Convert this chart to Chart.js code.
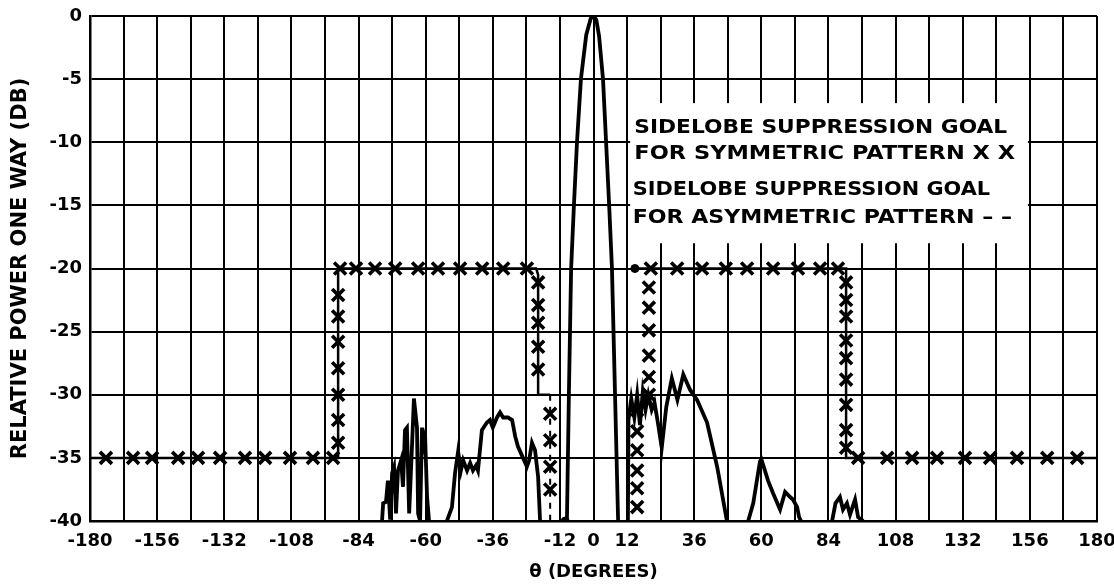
<!DOCTYPE html>
<html>
<head>
<meta charset="utf-8">
<script src="https://cdn.jsdelivr.net/npm/chart.js@4"></script>
<style>
html,body{margin:0;padding:0;background:#fff}
</style>
</head>
<body>
<canvas id="pattern" width="1114" height="585"></canvas>
<script>
// ================= DATA =================

// angle ticks (grid every 12 deg, only these get a label)
const thetaLabels = [-180,-156,-132,-108,-84,-60,-36,-12,0,12,36,60,84,108,132,156,180]

// measured one-way pattern [theta, dB]; null = trace drops below -40
const patternTrace = [
[-75.6,-40],[-75.2,-38.6],[-74.2,-38.5],[-73.5,-36.8],[-72.7,-39.9],[-72,-36.2],[-71.3,-35.7],[-70.6,-39.4],
[-69.9,-36],[-68.8,-35.2],[-68.1,-37.3],[-67.4,-32.8],[-66.7,-32.6],[-65.9,-39.4],[-64.8,-33.6],[-64.2,-30.3],
[-63.1,-32.6],[-62.7,-39.4],[-62,-40],[-61.3,-32.6],[-60.9,-34.1],[-60.2,-33.3],[-59.5,-38.1],[-58.8,-40],
null,
[-52.4,-40],[-50.6,-38.9],[-49.5,-36.2],[-48.4,-34.5],[-47.4,-36],[-46.6,-35.2],[-45.2,-36],[-44.1,-35.4],
[-43.1,-36],[-42,-35.6],[-41.3,-36],[-39.9,-32.8],[-38.1,-32.2],[-37,-32],[-36,-32.6],[-34.5,-31.8],
[-33.4,-31.4],[-32.3,-31.8],[-30.6,-31.8],[-29.1,-32],[-28,-33.3],[-27,-34.1],[-25.2,-35],[-23.8,-35.7],
[-23,-35.2],[-22,-33.8],[-20.9,-34.4],[-19.8,-36.5],[-19.1,-40],
null,
[-9.5,-40],[-8.8,-30],[-8,-20],[-7,-15],[-5.9,-10],[-4.5,-5],[-2.6,-1.5],[-1,-0.2],[0,0],[1,-0.3],
[2,-1.6],[3.4,-5],[4.5,-10],[5.6,-15],[6.6,-20],[7.7,-30],[8.8,-40],
null,
[12.3,-40],[12.5,-32],[13.5,-30.3],[14.6,-31.8],[15.6,-30],[16.6,-32.4],[17.6,-29.8],[18.6,-31.2],
[19.6,-30],[20.8,-31.2],[21.8,-30.6],[23,-32.2],[24.4,-34.2],[26,-31],[28,-28.7],[30,-30.4],
[32.1,-28.4],[34.5,-29.6],[37,-30.4],[40.6,-32.2],[44.2,-35.7],[47.7,-40],
null,
[55.3,-40],[57.1,-38.6],[59.5,-35.3],[60,-35.1],[62.4,-36.8],[64.2,-37.8],[66.7,-39.1],[68.5,-37.7],
[70.3,-38.1],[71.3,-38.3],[72.8,-38.9],[73.5,-39.7],[74.2,-40],
null,
[85.3,-40],[86.5,-38.6],[88.1,-38.1],[89.2,-39.1],[90.6,-38.6],[91.7,-39.5],[93.5,-38.3],[94.6,-39.7],[96.4,-40]
]

// goal outlines (solid)
const goalLeftPath = [[-180,-35],[-91.3,-35],[-91.3,-20],[-20.5,-20],[-19.8,-20.5],[-19.8,-30],[-15.5,-30]]
const goalRightPath = [[14.8,-20],[90.3,-20],[90.3,-35],[180,-35]]
// asymmetric goal (dashed)
const goalAsymPath = [[-15.5,-30],[-15.5,-40]]

// X marks along the goals
const goalMarks = [
[-174.3,-35],[-164.6,-35],[-157.8,-35],[-148.5,-35],[-141.4,-35],[-133.5,-35],[-124.6,-35],[-117.4,-35],
[-108.5,-35],[-100.3,-35],[-93.1,-35],
[-91.3,-33.8],[-91.3,-32],[-91.3,-30],[-91.3,-27.9],[-91.3,-25.8],[-91.3,-23.8],[-91.3,-22.1],
[-90.6,-20],[-84.9,-20],[-78.1,-20],[-70.9,-20],[-62.7,-20],[-55.6,-20],[-47.7,-20],[-39.8,-20],[-32.3,-20],[-23.8,-20],
[-19.8,-21.1],[-19.8,-22.9],[-19.8,-24.3],[-19.8,-26.2],[-19.8,-28],
[-15.5,-31.5],[-15.5,-33.6],[-15.5,-35.7],[-15.5,-37.5],
[19.8,-21.5],[19.8,-23.1],[19.8,-24.9],[19.8,-26.9],[19.8,-28.6],[19.8,-30],
[15.6,-31.2],[15.6,-32.9],[15.6,-34.4],[15.6,-36],[15.6,-37.4],[15.6,-38.9],
[20.5,-20],[29.9,-20],[38.8,-20],[47.3,-20],[54.9,-20],[64.2,-20],[73.1,-20],[81,-20],[87.4,-20],
[90.3,-21.1],[90.3,-22.5],[90.3,-23.8],[90.3,-25.7],[90.3,-27.1],[90.3,-28.8],[90.3,-30.8],[90.3,-32.8],[90.3,-34.2],
[94.6,-35],[105,-35],[113.9,-35],[122.8,-35],[132.8,-35],[141.8,-35],[151.4,-35],[162.2,-35],[172.9,-35]
]
const goalDots = [[-10.1,-40],[14.8,-20]]

const noteLines = ['SIDELOBE SUPPRESSION GOAL','FOR SYMMETRIC PATTERN X X','SIDELOBE SUPPRESSION GOAL','FOR ASYMMETRIC PATTERN – –']

// ================= HELPERS =================

const pts = arr => arr.map(p => p ? {x:p[0],y:p[1]} : {x:0,y:null})
const FONT = '"DejaVu Sans", sans-serif'

// white panel with the goal notes, drawn over the grid
const notePanel = {
id:'notePanel',
beforeDatasetsDraw(chart){
const {ctx, scales:{x,y}} = chart
const left = x.getPixelForValue(13.1), right = x.getPixelForValue(155.3)
const top = y.getPixelForValue(-6.9), bottom = y.getPixelForValue(-18)
ctx.save()
ctx.fillStyle='#fff'
ctx.fillRect(left,top,right-left,bottom-top)
ctx.fillStyle='#000'
ctx.font='bold 19px '+FONT
ctx.textBaseline='middle'
// [start theta, end theta, dB] per line
const place = [[14.6,147.9,-8.85],[14.6,150.7,-10.9],[14,141.8,-13.8],[14,149.6,-16]]
noteLines.forEach((t,i)=>{
const [a,b,db] = place[i]
const x0 = x.getPixelForValue(a), w = x.getPixelForValue(b)-x0
const nat = ctx.measureText(t).width
ctx.save()
ctx.translate(x0, y.getPixelForValue(db))
ctx.scale(w/nat,1)
ctx.fillText(t,0,0)
ctx.restore()
})
ctx.restore()
}
}

// ================= CHART =================

new Chart(document.getElementById('pattern'),{
type:'scatter',
data:{
datasets:[
{data:pts(patternTrace),showLine:true,borderColor:'#000',borderWidth:3.8,pointRadius:0,spanGaps:false,tension:0},
{data:pts(goalLeftPath),showLine:true,borderColor:'#000',borderWidth:2.5,pointRadius:0},
{data:pts(goalRightPath),showLine:true,borderColor:'#000',borderWidth:2.5,pointRadius:0},
{data:pts(goalAsymPath),showLine:true,borderColor:'#000',borderWidth:2,borderDash:[6,6],pointRadius:0},
{data:pts(goalMarks),showLine:false,pointStyle:'crossRot',pointRadius:8.5,pointBorderWidth:3.6,pointBorderColor:'#000',pointBackgroundColor:'#000'},
{data:pts(goalDots),showLine:false,pointStyle:'circle',pointRadius:4,pointBorderColor:'#000',pointBackgroundColor:'#000'}
]
},
options:{
responsive:false,
animation:false,
devicePixelRatio:1,
layout:{padding:{left:0,right:17,top:16,bottom:0}},
plugins:{legend:{display:false},tooltip:{enabled:false}},
scales:{
x:{
type:'linear',min:-180,max:180,
afterFit:s=>{s.height=64;s.paddingLeft=0;s.paddingRight=0},
grid:{color:'#000',lineWidth:2,drawTicks:false},
border:{color:'#000',width:2.5},
ticks:{stepSize:12,autoSkip:false,maxRotation:0,padding:10,color:'#000',
font:{family:FONT,size:18,weight:'bold'},
callback:v=>thetaLabels.includes(v)?String(v):''},
title:{display:true,text:'θ (DEGREES)',color:'#000',font:{family:FONT,size:18,weight:'bold'},padding:{top:0,bottom:2}}
},
y:{
min:-40,max:0,
afterFit:s=>{s.width=90;s.paddingTop=0;s.paddingBottom=0},
grid:{color:'#000',lineWidth:2,drawTicks:false},
border:{color:'#000',width:2.5},
ticks:{stepSize:5,padding:8,color:'#000',font:{family:FONT,size:18,weight:'bold'}},
title:{display:true,text:'RELATIVE POWER ONE WAY (DB)',color:'#000',font:{family:FONT,size:21,weight:'bold'},padding:{top:8,bottom:0}}
}
}
},
plugins:[notePanel]
})
</script>
</body>
</html>
